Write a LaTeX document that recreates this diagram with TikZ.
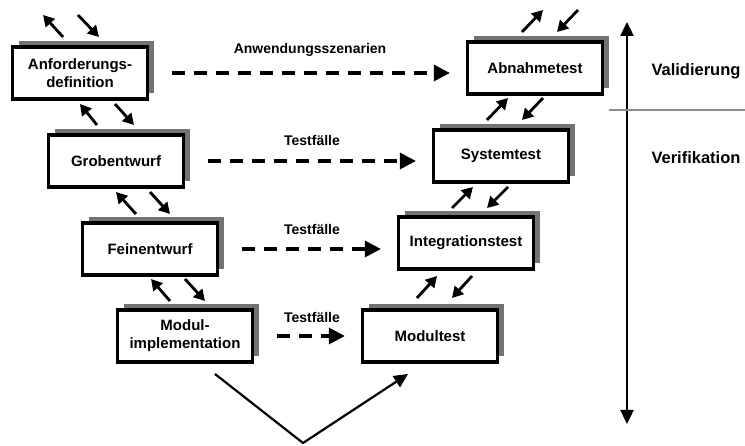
\documentclass[tikz,border=0pt]{standalone}
\usepackage{fontspec}
\setmainfont{Liberation Sans}
\usetikzlibrary{arrows.meta,shadows,calc}
\begin{document}
\begin{tikzpicture}[x=1pt,y=-1pt,
  phase/.style={draw, line width=3.2pt, fill=white, minimum width=135pt, minimum height=52pt,
    inner sep=0pt, align=center, font=\fontsize{15}{18}\selectfont\bfseries,
    general shadow={fill=black!55, shadow xshift=6pt, shadow yshift=6pt}},
  sarrow/.style={line width=2.8pt, -{Triangle[length=11pt,width=12pt]}},
  dasharrow/.style={line width=3.2pt, dash pattern=on 13pt off 9pt,
    -{Triangle[length=16pt,width=16pt]}, shorten <=23pt, shorten >=16pt},
  lbl/.style={font=\fontsize{14}{16}\selectfont\bfseries},
  side/.style={font=\fontsize{16.5}{19}\selectfont\bfseries, anchor=west}]
\useasboundingbox (0,0) rectangle (745,446);
% boxes
\node[phase] (anf) at (80,73) {Anforderungs-\\definition};
\node[phase] (gro) at (116,161) {Grobentwurf};
\node[phase] (fei) at (150,249) {Feinentwurf};
\node[phase] (mod) at (185,336) {Modul-\\implementation};
\node[phase] (abn) at (535,68) {Abnahmetest};
\node[phase] (sys) at (501,156) {Systemtest};
\node[phase] (int) at (466,243) {Integrationstest};
\node[phase] (mt) at (430,336) {Modultest};
% dashed arrows with labels
\draw[dasharrow] (anf.east) -- (anf.east -| abn.west);
\draw[dasharrow] (gro.east) -- (gro.east -| sys.west);
\draw[dasharrow] (fei.east) -- (fei.east -| int.west);
\draw[dasharrow] (mod.east) -- (mod.east -| mt.west);
\node[lbl] (l1) at (310,50) {Anwendungsszenarien};
\node[lbl] (l2) at (312,140) {Testfälle};
\node[lbl] (l3) at (312,229) {Testfälle};
\node[lbl] (l4) at (312,317) {Testfälle};
% short arrows left side
\draw[sarrow] (63,37) -- (43,15);
\draw[sarrow] (78,15) -- (99,37);
\draw[sarrow] (97,125) -- (80,104);
\draw[sarrow] (115,104) -- (134,125);
\draw[sarrow] (136,214) -- (116,192);
\draw[sarrow] (150,192) -- (170,214);
\draw[sarrow] (170,301) -- (151,279);
\draw[sarrow] (185,279) -- (205,301);
% short arrows right side
\draw[sarrow] (522,32) -- (543,10);
\draw[sarrow] (578,10) -- (557,32);
\draw[sarrow] (487,120) -- (508,98);
\draw[sarrow] (543,98) -- (522,120);
\draw[sarrow] (452,208) -- (473,187);
\draw[sarrow] (508,187) -- (487,208);
\draw[sarrow] (417,298) -- (437,276);
\draw[sarrow] (472,276) -- (452,298);
% V shape
\coordinate (vs) at (215,374);
\coordinate (vb) at (303,443);
\coordinate (ve) at (408,374);
\draw[line width=2.2pt, -{Triangle[length=14pt,width=13pt]}] (vs) -- (vb) -- (ve);
% vertical double arrow and separator
\coordinate (vt) at (627,22);
\coordinate (vd) at (627,424);
\draw[line width=2.4pt, {Triangle[length=14pt,width=13pt]}-{Triangle[length=14pt,width=13pt]}] (vt) -- (vd);
\coordinate (sl) at (609,110);
\coordinate (sr) at (745,110);
\draw[black!45, line width=1.8pt] (sl) -- (sr);
\node[side] (val) at (648,71) {Validierung};
\node[side] (ver) at (648,158) {Verifikation};
\end{tikzpicture}
\end{document}
